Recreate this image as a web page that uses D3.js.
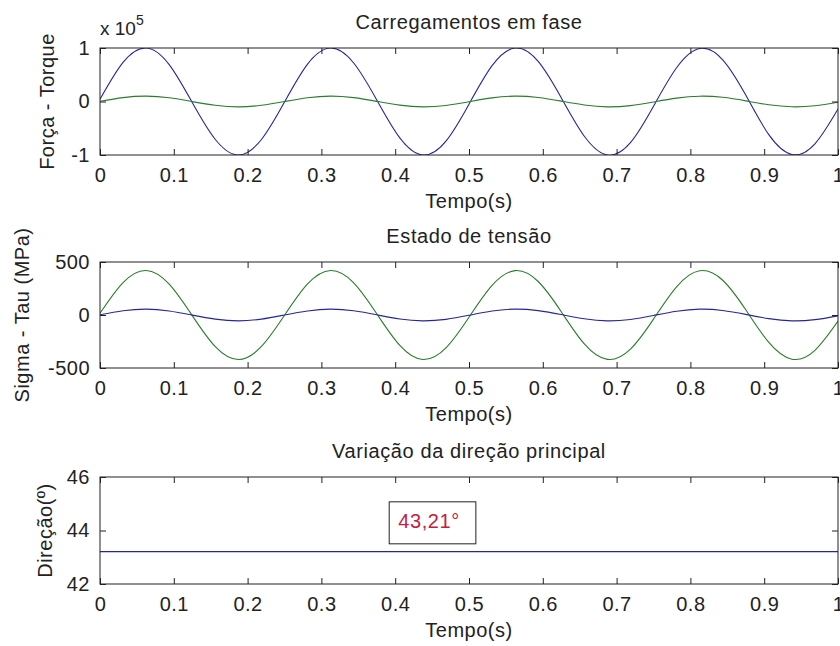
<html>
<head>
<meta charset="utf-8">
<script src="https://d3js.org/d3.v7.min.js"></script>
<style>
    body { margin: 0; background: #fff; }
    svg { display: block; background: #fff; }
    text { font-family: "Liberation Sans", Arial, sans-serif; fill: #222; }
    .tick line { stroke: #222; }
    .tick text { font-size: 20px; letter-spacing: 0.5px; }
</style>
</head>
<body>
<svg id="fig" width="840" height="646"></svg>
<script>
    // amostras no tempo (s)
    var tempo = [0, 0.03125, 0.0625, 0.09375, 0.125, 0.15625, 0.1875, 0.21875,
        0.25, 0.28125, 0.3125, 0.34375, 0.375, 0.40625, 0.4375, 0.46875,
        0.5, 0.53125, 0.5625, 0.59375, 0.625, 0.65625, 0.6875, 0.71875,
        0.75, 0.78125, 0.8125, 0.84375, 0.875, 0.90625, 0.9375, 0.96875, 1];

    // carregamentos (x 10^5)
    var forca = [0.04, 0.73, 1.00, 0.69, -0.02, -0.71, -1.00, -0.71, -0.01, 0.70, 1.00, 0.72, 0.03,
        -0.68, -1.00, -0.74, -0.05, 0.67, 1.00, 0.75, 0.07, -0.65, -1.00, -0.77, -0.09,
        0.63, 0.99, 0.78, 0.12, -0.62, -0.99, -0.79, -0.14];
    var torque = [0.004, 0.073, 0.100, 0.069, -0.002, -0.071, -0.100, -0.071, -0.001, 0.070, 0.100, 0.072, 0.003,
        -0.068, -0.100, -0.074, -0.005, 0.067, 0.100, 0.075, 0.007, -0.065, -0.100, -0.077, -0.009,
        0.063, 0.099, 0.078, 0.012, -0.062, -0.099, -0.079, -0.014];

    // estado de tensao (MPa)
    var sigma = [16, 306, 420, 291, -6, -299, -420, -297, -3, 293, 420, 304, 12,
        -287, -420, -310, -21, 280, 419, 316, 31, -273, -419, -322, -39,
        266, 417, 328, 49, -259, -417, -333, -58];
    var tau = [2, 40, 55, 38, -1, -39, -55, -39, 0, 38, 55, 40, 2,
        -38, -55, -41, -3, 37, 55, 41, 4, -36, -55, -42, -5,
        35, 55, 43, 6, -34, -55, -44, -8];

    // direcao principal (graus)
    var tempoDir = [0, 1];
    var direcao = [43.21, 43.21];
    var rotuloDir = '43,21\u00b0';

    var xTicks = [0, 0.1, 0.2, 0.3, 0.4, 0.5, 0.6, 0.7, 0.8, 0.9, 1];
    var azul = '#26269a', verde = '#2b7c2b';

    var svg = d3.select('#fig');
    var x = d3.scaleLinear().domain([0, 1]).range([100, 838]);
    var fmt = function(d) { return String(d); };   // hifen simples, como no MATLAB

    var paineis = [
        { top: 48, bottom: 155, dom: [-1, 1], ticks: [-1, 0, 1], titulo: 'Carregamentos em fase',
          ylab: 'For\u00e7a - Torque', ylabX: 54,
          series: [{ v: forca, c: azul }, { v: torque, c: verde }] },
        { top: 262, bottom: 368, dom: [-500, 500], ticks: [-500, 0, 500], titulo: 'Estado de tens\u00e3o',
          ylab: 'Sigma - Tau (MPa)', ylabX: 29,
          series: [{ v: sigma, c: verde }, { v: tau, c: azul }] },
        { top: 477, bottom: 584, dom: [42, 46], ticks: [42, 44, 46], titulo: 'Varia\u00e7\u00e3o da dire\u00e7\u00e3o principal',
          ylab: 'Dire\u00e7\u00e3o(\u00ba)', ylabX: 52,
          series: [{ v: direcao, t: tempoDir, c: azul }] }
    ];

    paineis.forEach(function(p, i) {
        var y = d3.scaleLinear().domain(p.dom).range([p.bottom, p.top]);
        var g = svg.append('g');

        g.append('clipPath').attr('id', 'clip' + i)
          .append('rect')
            .attr('x', x(0)).attr('y', p.top)
            .attr('width', x(1) - x(0)).attr('height', p.bottom - p.top);

        var line = d3.line().curve(d3.curveNatural);
        p.series.forEach(function(s) {
            var ts = s.t || tempo;
            g.append('path')
                .attr('clip-path', 'url(#clip' + i + ')')
                .attr('d', line(ts.map(function(t, k) { return [x(t), y(s.v[k])]; })))
                .attr('fill', 'none')
                .attr('stroke', s.c)
                .attr('stroke-width', 1.1);
        });

        // eixos (ticks para dentro, dos quatro lados)
        g.append('g').attr('transform', 'translate(0,' + p.bottom + ')')
            .call(d3.axisBottom(x).tickValues(xTicks).tickSizeInner(-6).tickSizeOuter(0).tickPadding(13)
                .tickFormat(fmt))
            .call(function(a) { a.select('.domain').remove(); });
        g.append('g').attr('transform', 'translate(0,' + p.top + ')')
            .call(d3.axisTop(x).tickValues(xTicks).tickSizeInner(-6).tickSizeOuter(0).tickFormat(''))
            .call(function(a) { a.select('.domain').remove(); });
        g.append('g').attr('transform', 'translate(' + x(0) + ',0)')
            .call(d3.axisLeft(y).tickValues(p.ticks).tickSizeInner(-6).tickSizeOuter(0).tickPadding(10)
                .tickFormat(fmt))
            .call(function(a) { a.select('.domain').remove(); });
        g.append('g').attr('transform', 'translate(' + x(1) + ',0)')
            .call(d3.axisRight(y).tickValues(p.ticks).tickSizeInner(-6).tickSizeOuter(0).tickFormat(''))
            .call(function(a) { a.select('.domain').remove(); });

        g.append('rect')
            .attr('x', x(0)).attr('y', p.top)
            .attr('width', x(1) - x(0)).attr('height', p.bottom - p.top)
            .attr('fill', 'none').attr('stroke', '#222').attr('stroke-width', 1);

        g.selectAll('.tick text').attr('fill', '#222');

        g.append('text')
            .attr('x', (x(0) + x(1)) / 2).attr('y', p.top - 19)
            .attr('text-anchor', 'middle')
            .style('font-size', '20px').style('letter-spacing', '0.6px')
            .text(p.titulo);

        g.append('text')
            .attr('x', (x(0) + x(1)) / 2).attr('y', p.bottom + 53)
            .attr('text-anchor', 'middle')
            .style('font-size', '20px').style('letter-spacing', '0.5px')
            .text('Tempo(s)');

        g.append('text')
            .attr('transform', 'translate(' + p.ylabX + ',' + (p.top + p.bottom) / 2 + ') rotate(-90)')
            .attr('text-anchor', 'middle')
            .style('font-size', '20px').style('letter-spacing', '0.5px')
            .text(p.ylab);

        if (i === 0) {
            var ex = g.append('text')
                .attr('x', x(0)).attr('y', p.top - 13)
                .style('font-size', '19px');
            ex.append('tspan').text('x 10');
            ex.append('tspan').attr('dy', -10).style('font-size', '14px').text('5');
        }

        if (i === 2) {
            var caixa = g.append('rect');
            var lbl = g.append('text')
                .attr('x', x(0.4) + 3).attr('y', y(44.1))
                .style('fill', '#c4203c')
                .style('font-size', '20px').style('letter-spacing', '0.6px')
                .text(rotuloDir);
            var bb = lbl.node().getBBox();
            caixa
                .attr('x', bb.x - 9).attr('y', bb.y - 8)
                .attr('width', bb.width + 25).attr('height', bb.height + 20)
                .attr('fill', '#fff').attr('stroke', '#222').attr('stroke-width', 1);
        }
    });
</script>
</body>
</html>
